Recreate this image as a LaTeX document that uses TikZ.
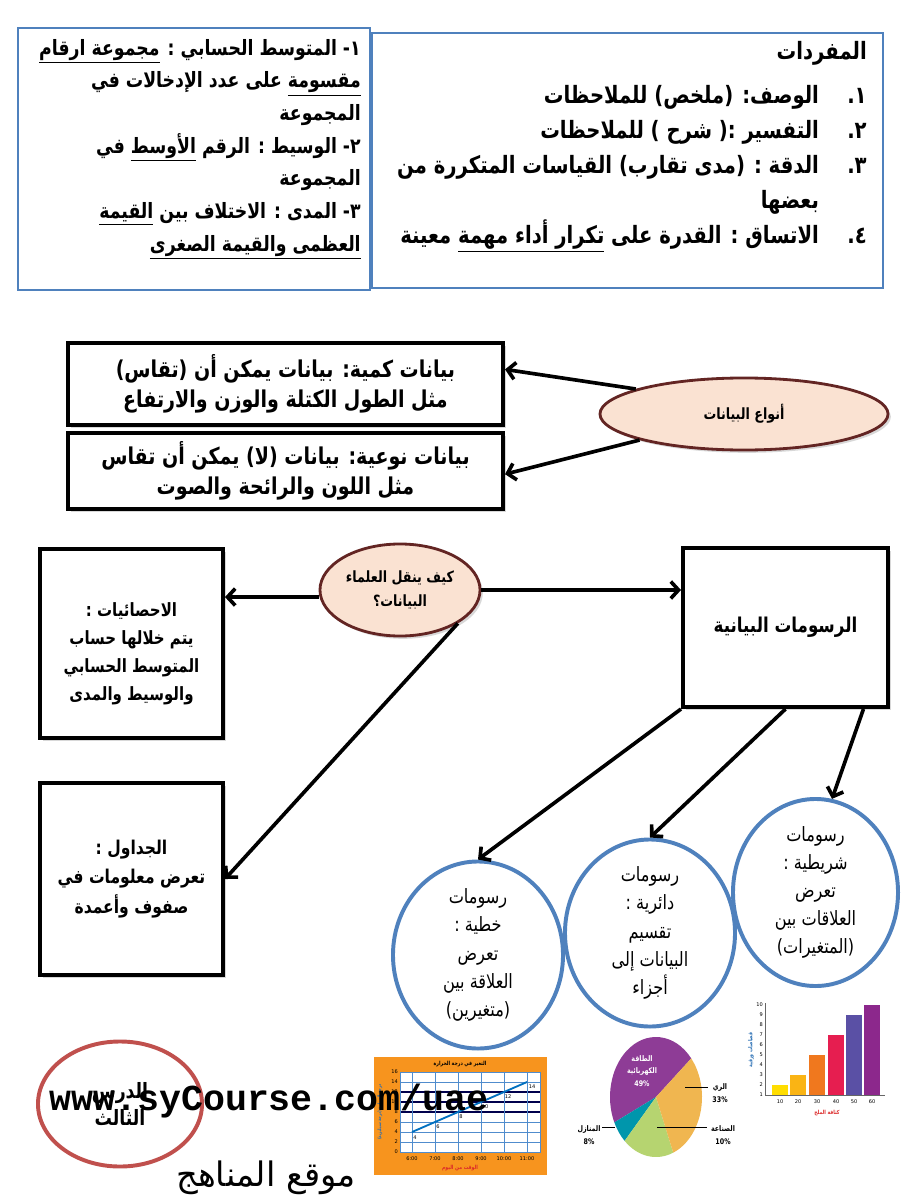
\documentclass[tikz,border=0pt]{standalone}
\usepackage{fontspec}
\setmonofont{Liberation Mono}
\newfontfamily\arabicfont[Script=Arabic, FakeStretch=0.82]{DejaVu Sans}
\newfontfamily\arabicwide[Script=Arabic]{DejaVu Sans}
\usetikzlibrary{arrows.meta,positioning,calc,shapes.geometric,shadows}
\TeXXeTstate=1
\definecolor{officeblue}{RGB}{79,129,189}
\definecolor{maroonline}{RGB}{99,37,35}
\definecolor{peachfill}{RGB}{250,226,210}
\definecolor{lessonred}{RGB}{192,80,77}
\definecolor{chartorange}{RGB}{247,148,30}
\definecolor{gridblue}{RGB}{80,140,205}
\definecolor{chartline}{RGB}{0,112,192}
\definecolor{axisred}{RGB}{220,40,40}
\definecolor{axisblue}{RGB}{40,110,180}
\definecolor{piepurple}{RGB}{142,60,150}
\definecolor{pieorange}{RGB}{240,182,80}
\definecolor{piegreen}{RGB}{182,212,112}
\definecolor{pieteal}{RGB}{0,150,172}
\definecolor{baryellow}{RGB}{255,221,0}
\definecolor{bargold}{RGB}{250,180,20}
\definecolor{barorange}{RGB}{240,120,30}
\definecolor{barred}{RGB}{230,30,80}
\definecolor{barblue}{RGB}{90,80,165}
\definecolor{barpurple}{RGB}{140,40,140}
\newcommand{\artext}[1]{\beginR #1\endR}
\newcommand{\itemno}[1]{\makebox[2em][l]{#1}}

\begin{document}
\begin{tikzpicture}[x=0.025cm, y=-0.025cm,
    every node/.style={inner sep=0pt},
    bluebox/.style={draw=officeblue, line width=1.4pt},
    vocab/.style={align=right, font=\arabicfont\bfseries\fontsize{15}{23.2}\selectfont},
    blackbox/.style={rectangle, draw=black, line width=2.8pt, fill=white, align=center,
        drop shadow={shadow xshift=2pt, shadow yshift=-2pt, opacity=0.3},
        font=\arabicfont\bfseries\fontsize{13}{20}\selectfont},
    oval/.style={ellipse, draw=maroonline, line width=2pt, fill=peachfill, align=center,
        drop shadow={shadow xshift=2pt, shadow yshift=-2pt, opacity=0.3},
        font=\arabicfont\bfseries\fontsize{11}{17}\selectfont},
    bubble/.style={ellipse, draw=officeblue, line width=2.8pt, fill=white, align=center,
        font=\arabicfont\fontsize{14}{20}\selectfont},
    arr/.style={line width=2.6pt, -{Straight Barb[length=5.5pt, width=12pt]}},
    ticklbl/.style={font=\arabicwide\fontsize{3.6}{4}\selectfont},
    tinyar/.style={align=center, font=\arabicfont\bfseries\fontsize{4}{5}\selectfont},
    pielbl/.style={align=center, font=\arabicfont\bfseries\fontsize{5.5}{9}\selectfont},
    leader/.style={line width=0.5pt}
]
    \fill[white] (0,0) rectangle (900,1200);
    \useasboundingbox (0,0) rectangle (900,1200);

    % top: definitions and vocabulary
    \node[bluebox, minimum width=8.8cm, minimum height=6.55cm] (termbox) at (194,159) {};
    \node[bluebox, minimum width=12.775cm, minimum height=6.375cm] (vocabbox) at (627.5,160.5) {};
    \node[vocab, anchor=north east] (termtext) at (361,39) {%
        \artext{١- المتوسط الحسابي : \underline{\artext{مجموعة ارقام}}}\\
        \artext{\underline{مقسومة} على عدد الإدخالات في}\\
        \artext{المجموعة}\\
        \artext{٢- الوسيط : الرقم \underline{الأوسط} في}\\
        \artext{المجموعة}\\
        \artext{٣- المدى : الاختلاف بين \underline{القيمة}}\\
        \artext{\underline{\artext{العظمى والقيمة الصغرى}}}};
    \node[vocab, anchor=north east, font=\arabicfont\bfseries\fontsize{17}{25}\selectfont]
        (vocabtext) at (867,41) {%
        \artext{المفردات}\\[6pt]
        \artext{\itemno{١.}الوصف:  (ملخص) للملاحظات}\\
        \artext{\itemno{٢.}التفسير :( شرح ) للملاحظات}\\
        \artext{\itemno{٣.}الدقة : (مدى تقارب) القياسات المتكررة من}\\
        \artext{\itemno{}بعضها}\\
        \artext{\itemno{٤.}الاتساق : القدرة على \underline{\artext{تكرار أداء مهمة}} معينة}};

    % types of data
    \node[blackbox, minimum width=10.875cm, minimum height=2.05cm,
        font=\arabicfont\bfseries\fontsize{16.5}{21.5}\selectfont] (qbox) at (285.5,384)
        {\artext{بيانات كمية: بيانات يمكن أن (تقاس)}\\\artext{مثل الطول الكتلة والوزن والارتفاع}};
    \node[blackbox, minimum width=10.875cm, minimum height=1.9cm,
        font=\arabicfont\bfseries\fontsize{16.5}{21.5}\selectfont] (lbox) at (285.5,471)
        {\artext{بيانات نوعية: بيانات (لا) يمكن أن تقاس}\\\artext{مثل اللون والرائحة والصوت}};
    \node[oval, minimum width=7.2cm, minimum height=1.8cm] (typeoval) at (744,414)
        {\artext{أنواع البيانات}};
    \draw[arr] (typeoval.167) -- ($(qbox.north east)!0.33!(qbox.south east)$);
    \draw[arr] (typeoval.194) -- ($(lbox.north east)!0.54!(lbox.south east)$);

    % how scientists communicate data
    \node[oval, minimum width=4cm, minimum height=2.3cm] (howoval) at (400,590)
        {\artext{كيف ينقل العلماء}\\\artext{البيانات؟}};
    \node[blackbox, minimum width=4.575cm, minimum height=4.725cm] (statbox) at (131.5,643.5) {};
    \node[align=center, font=\arabicfont\bfseries\fontsize{13}{20}\selectfont] (stattext) at (131.5,654)
        {\artext{الاحصائيات :}\\\artext{يتم خلالها حساب}\\\artext{المتوسط الحسابي}\\\artext{والوسيط والمدى}};
    \node[blackbox, minimum width=5.125cm, minimum height=3.975cm,
        font=\arabicfont\bfseries\fontsize{14.5}{20}\selectfont] (graphbox) at (785.5,627.5)
        {\artext{الرسومات البيانية}};
    \node[blackbox, minimum width=4.575cm, minimum height=4.8cm,
        font=\arabicfont\bfseries\fontsize{13.5}{21}\selectfont] (tablebox) at (131.5,879)
        {\artext{الجداول :}\\\artext{تعرض معلومات في}\\\artext{صفوف وأعمدة}};
    \draw[arr] (howoval.185) -- (statbox.east |- howoval.185);
    \draw[arr] (howoval.east) -- (graphbox.west |- howoval.east);
    \draw[arr] (howoval.-30) -- (tablebox.east);

    % kinds of graphs
    \node[bubble, minimum width=4.25cm, minimum height=4.625cm] (linebubble) at (478,955)
        {\artext{رسومات}\\\artext{خطية :}\\\artext{تعرض}\\\artext{العلاقة بين}\\\artext{(متغيرين)}};
    \node[bubble, minimum width=4.25cm, minimum height=4.5cm] (piebubble) at (650,933)
        {\artext{رسومات}\\\artext{دائرية :}\\\artext{تقسيم}\\\artext{البيانات إلى}\\\artext{أجزاء}};
    \node[bubble, minimum width=4.125cm, minimum height=4.375cm] (barbubble) at (815.5,892.5)
        {\artext{رسومات}\\\artext{شريطية :}\\\artext{تعرض}\\\artext{العلاقات بين}\\\artext{(المتغيرات)}};
    \draw[arr] (graphbox.south west) -- (linebubble.north);
    \draw[arr] (graphbox.south) -- (piebubble.north);
    \draw[arr] ($(graphbox.south west)!0.873!(graphbox.south east)$) -- (barbubble.80);

    % lesson label
    \node[ellipse, draw=lessonred, line width=2.8pt, minimum width=4.1cm, minimum height=3.125cm,
        align=center, font=\arabicfont\bfseries\fontsize{15}{19}\selectfont] (lessonoval) at (120,1104)
        {\artext{الدرس}\\\artext{الثالث}};

    % line chart
    \fill[chartorange] (374,1057) rectangle (547,1175);
    \fill[white] (400,1072) rectangle (540,1152);
    \foreach \v in {0,2,...,16}
        \draw[gridblue, line width=0.4pt] (400,1152-5*\v) -- (540,1152-5*\v);
    \foreach \v in {8,10,12}
        \draw[black!70!blue, line width=0.8pt] (400,1152-5*\v) -- (540,1152-5*\v);
    \foreach \h in {0,...,5}
        \draw[gridblue, line width=0.4pt] (412+23*\h,1072) -- (412+23*\h,1152);
    \draw[gridblue, line width=0.4pt] (400,1072) rectangle (540,1152);
    \foreach \v in {0,2,...,16}
        \node[ticklbl, anchor=east] (lcy\v) at (398,1152-5*\v) {\v};
    \foreach \h/\t in {0/6:00,1/7:00,2/8:00,3/9:00,4/10:00,5/11:00}
        \node[ticklbl] (lcx\h) at (412+23*\h,1159) {\t};
    \draw[chartline, line width=1.3pt] (412,1132) -- (527,1082);
    \foreach \px/\py/\t in {415/1138/4,438/1127/6,461/1117/8,485/1107/10,508/1097/12,532/1087/14}
        \node[ticklbl] (lcp\t) at (\px,\py) {\t};
    \node[tinyar] (lctitle) at (460,1064) {\artext{التغير في درجة الحرارة}};
    \node[tinyar, text=axisred] (lcxlabel) at (460,1168) {\artext{الوقت من اليوم}};
    \node[tinyar, text=axisblue, rotate=90, font=\arabicfont\bfseries\fontsize{3.4}{4}\selectfont]
        (lcylabel) at (380,1112) {\artext{درجة الحرارة (درجة سيليزية)}};

    % pie chart
    \coordinate (piec) at (656,1097);
    \fill[piepurple] (piec) -- ++(-40:46 and 60) arc[start angle=-40, end angle=-205, x radius=46, y radius=60] -- cycle;
    \fill[pieteal] (piec) -- ++(-205:46 and 60) arc[start angle=-205, end angle=-227, x radius=46, y radius=60] -- cycle;
    \fill[piegreen] (piec) -- ++(-227:46 and 60) arc[start angle=-227, end angle=-292, x radius=46, y radius=60] -- cycle;
    \fill[pieorange] (piec) -- ++(-292:46 and 60) arc[start angle=-292, end angle=-400, x radius=46, y radius=60] -- cycle;
    \node[pielbl, text=white] (pieelec) at (642,1071) {\artext{الطاقة}\\\artext{الكهربائية}\\49\%};
    \node[pielbl] (pieirr) at (720,1093) {\artext{الري}\\33\%};
    \node[pielbl] (pieind) at (723,1135) {\artext{الصناعة}\\10\%};
    \node[pielbl] (piehome) at (589,1135) {\artext{المنازل}\\8\%};
    \draw[leader] (685,1087) -- (708,1087);
    \draw[leader] (657,1127) -- (707,1127);
    \draw[leader] (602,1127) -- (615,1127);

    % bar chart
    \draw[black!60, line width=0.4pt] (765,1003) -- (765,1095) -- (885,1095);
    \foreach \v in {1,...,10}
        \node[ticklbl, anchor=east] (bcy\v) at (763,{1095-10*(\v-1)}) {\v};
    \foreach \xc/\val/\col/\t in {780/2/baryellow/10,798/3/bargold/20,817/5/barorange/30,
            836/7/barred/40,854/9/barblue/50,872/10/barpurple/60} {
        \fill[\col] (\xc-8,1095) rectangle (\xc+8,{1095-10*(\val-1)});
        \node[ticklbl] (bcx\t) at (\xc,1102) {\t};
    }
    \node[tinyar, text=axisred] (bcxlabel) at (827,1113) {\artext{كثافة الملح}};
    \node[tinyar, text=axisblue, rotate=90] (bcylabel) at (751,1050) {\artext{قصاصات ورقية}};

    % watermark
    \node[font=\ttfamily\bfseries\fontsize{26}{26}\selectfont, anchor=base] (siteurl) at (269,1110)
        {www.syCourse.com/uae};
    \node[font=\arabicwide\fontsize{24}{24}\selectfont] (sitename) at (266,1178) {\artext{موقع المناهج}};
\end{tikzpicture}
\end{document}
